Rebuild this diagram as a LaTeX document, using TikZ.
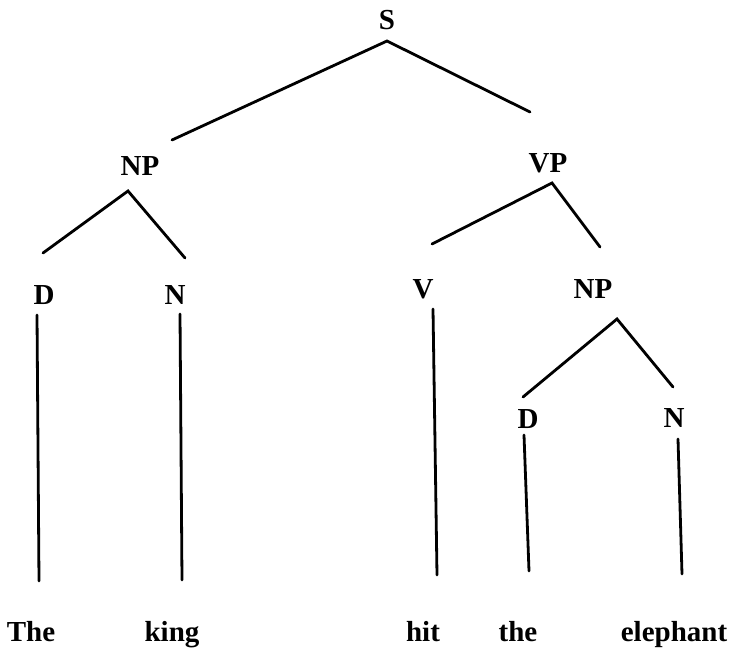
\documentclass[tikz,border=0pt]{standalone}
\usepackage{fontspec}
\setmainfont{Liberation Serif}
\begin{document}
\begin{tikzpicture}[x=1pt,y=-1pt,
  lab/.style={inner sep=0pt,anchor=base,font=\fontsize{29}{30}\selectfont\bfseries},
  branch/.style={line width=2.8pt,line join=miter,line cap=round}]
\useasboundingbox (0,0) rectangle (731,648);
% labels
\node[lab] (S)   at (387,29)  {S};
\node[lab] (NPa) at (140,175) {NP};
\node[lab] (VP)  at (548,172) {VP};
\node[lab] (Da)  at (44,304)  {D};
\node[lab] (Na)  at (175,304) {N};
\node[lab] (V)   at (423,298) {V};
\node[lab] (NPb) at (593,298) {NP};
\node[lab] (Db)  at (528,428) {D};
\node[lab] (Nb)  at (674,427) {N};
\node[lab] (w1)  at (31,641)  {The};
\node[lab] (w2)  at (172,641) {king};
\node[lab] (w3)  at (423,641) {hit};
\node[lab] (w4)  at (518,641) {the};
\node[lab] (w5)  at (674,641) {elephant};
% connector end points
\coordinate (Sx)   at (387,41);
\coordinate (Sl)   at (172,140);
\coordinate (Sr)   at (530,112);
\coordinate (NPax) at (128,191);
\coordinate (NPal) at (43,253);
\coordinate (NPar) at (185,258);
\coordinate (VPx)  at (552,183);
\coordinate (VPl)  at (432,244);
\coordinate (VPr)  at (600,247);
\coordinate (NPbx) at (617,319);
\coordinate (NPbl) at (523,397);
\coordinate (NPbr) at (673,387);
\coordinate (Dat)  at (37,315);
\coordinate (Dab)  at (39,581);
\coordinate (Nat)  at (180,314);
\coordinate (Nab)  at (182,580);
\coordinate (Vt)   at (433,309);
\coordinate (Vb)   at (437,575);
\coordinate (Dbt)  at (524,435);
\coordinate (Dbb)  at (529,571);
\coordinate (Nbt)  at (678,439);
\coordinate (Nbb)  at (682,574);
% branches
\draw[branch] (Sl) -- (Sx) -- (Sr);
\draw[branch] (NPal) -- (NPax) -- (NPar);
\draw[branch] (VPl) -- (VPx) -- (VPr);
\draw[branch] (NPbl) -- (NPbx) -- (NPbr);
\draw[branch] (Dat) -- (Dab);
\draw[branch] (Nat) -- (Nab);
\draw[branch] (Vt) -- (Vb);
\draw[branch] (Dbt) -- (Dbb);
\draw[branch] (Nbt) -- (Nbb);
\end{tikzpicture}
\end{document}
